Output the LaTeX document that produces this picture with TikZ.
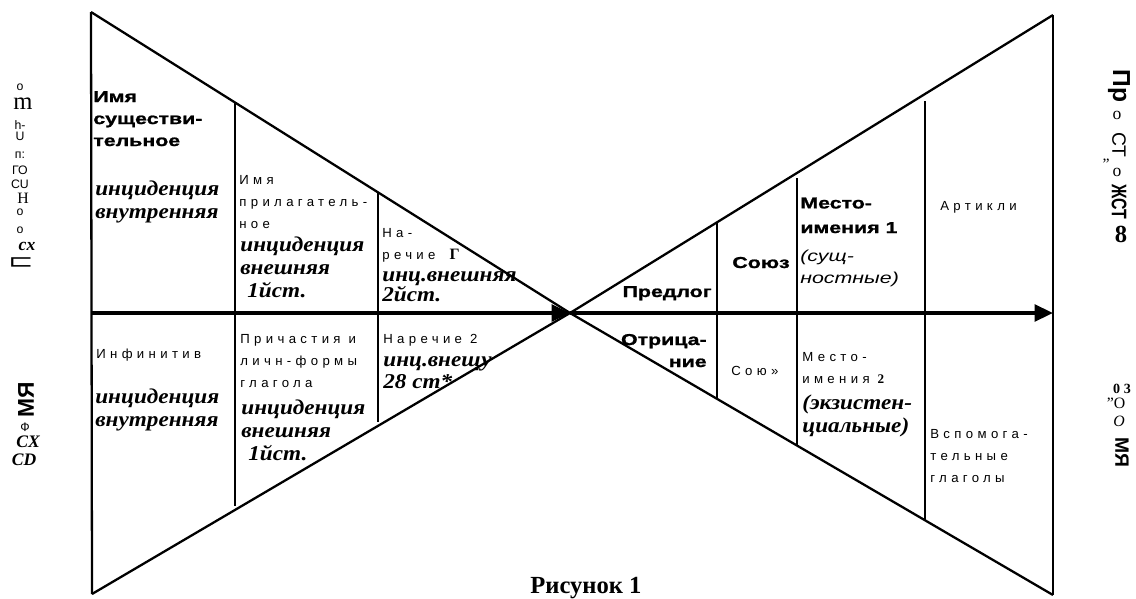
\documentclass[tikz,border=0pt]{standalone}
\usepackage{fontspec}
\usepackage{graphicx}
\setmainfont{Liberation Serif}
\setsansfont{Liberation Sans}
\newfontfamily\widesans[FakeStretch=1.35]{Liberation Sans}
\newfontfamily\blacksans[FakeStretch=1.35,FakeBold=1.2]{Liberation Sans}
\newfontfamily\spacedsans[LetterSpace=33]{Liberation Sans}
\newfontfamily\incserif[FakeStretch=1.1]{Liberation Serif}
\usetikzlibrary{arrows.meta}

\begin{document}
\begin{tikzpicture}[
  x=0.2mm, y=-0.2mm,
  edge/.style={line width=1.3pt},
  divider/.style={line width=1.1pt},
  axis/.style={line width=2pt, -{Triangle[length=10.5pt,width=9.5pt]}},
  txt/.style={inner sep=0pt, anchor=base west, align=left},
  heavy/.style={txt, font=\blacksans\bfseries\fontsize{9}{12.5}\selectfont},
  spaced/.style={txt, font=\spacedsans\fontsize{7.5}{12.5}\selectfont},
  incid/.style={txt, font=\incserif\bfseries\itshape\fontsize{12}{13}\selectfont},
  note/.style={txt, font=\widesans\itshape\fontsize{9}{12}\selectfont},
  side/.style={inner sep=0pt, font=#1},
  side/.default={\sffamily\fontsize{7}{7}\selectfont}
]
\useasboundingbox (0,0) rectangle (1136,598);

% Corners of the hourglass
\coordinate (tl)  at (91,12);
\coordinate (bl)  at (92,594);
\coordinate (tr)  at (1053,15);
\coordinate (br)  at (1053,595);
\coordinate (c)   at (570,313);
\coordinate (axl) at (91,313);
\coordinate (axr) at (1053,313);

% Outline
\draw[edge] (tl) -- (bl);
\draw[edge] (tr) -- (br);
\draw[edge] (tl) -- (c) -- (tr);
\draw[edge] (bl) -- (c) -- (br);

% Axis
\draw[axis] (axl) -- (c);
\draw[axis] (c) -- (axr);

% Column dividers
\foreach \x/\ya/\yb in {235/103/506, 378/193/422, 717/222/399, 797/178/446, 925/101/520}
  \draw[divider] (\x,\ya) -- (\x,\yb);

% Left half, upper row (nodes sit on the baseline of their last line)
\node[heavy] (noun-name) at (93,146) {Имя\\существи-\\тельное};
\node[incid] (noun-inc) at (95,218) {инциденция\\внутренняя};
\node[spaced] (adj-name) at (239,228) {Имя\\прилагатель-\\ное};
\node[incid] (adj-inc) at (240,297) {инциденция\\внешняя\\\hspace{4pt}1йст.};
\node[spaced] (adv1-name) at (382,259) {На-\\речие\hspace{8pt}{\normalfont\bfseries\fontsize{9}{9}\selectfont Г}};
\node[incid] (adv1-inc) at (382,301) {инц.внешняя\\[-2pt]2йст.};

% Left half, lower row
\node[spaced] (inf-name) at (96,358) {Инфинитив};
\node[incid] (inf-inc) at (95,426) {инциденция\\внутренняя};
\node[spaced] (part-name) at (240,387) {Причастия и\\личн-формы\\глагола};
\node[incid] (part-inc) at (241,460) {инциденция\\внешняя\\\hspace{4pt}1йст.};
\node[spaced] (adv2-name) at (383,343) {Наречие 2};
\node[incid] (adv2-inc) at (383,388) {инц.внещу\\[-1pt]28 ст*};

% Right half
\node[heavy, anchor=base east, align=right] (prep) at (712,297) {Предлог};
\node[heavy, anchor=base east, align=right] (neg) at (707,367) {Отрица-\\ние};
\node[heavy] (conj1) at (732,268) {Союз};
\node[spaced] (conj2) at (731,375) {Сою»};
\node[heavy] (pron1) at (800,233) {Место-\\[1.5pt]имения 1};
\node[note] (pron1-note) at (800,283) {(сущ-\\ностные)};
\node[spaced] (pron2) at (802,383) {Место-\\имения {\normalfont\bfseries 2}};
\node[incid] (pron2-note) at (802,432) {(экзистен-\\циальные)};
\node[spaced] (art) at (940,210) {Артикли};
\node[spaced] (aux) at (930,482) {Вспомога-\\тельные\\глаголы};

% Margin, left
\foreach \t/\y [count=\i] in {о/87, h-/125, U/136, п:/155, ГО/170, CU/184, о/212, о/230}
  \node[side] (lt-\i) at (20,\y) {\t};
\node[side=\rmfamily\fontsize{14}{14}\selectfont] (lt-m) at (23,104) {m};
\node[side=\rmfamily\fontsize{9}{9}\selectfont] (lt-h) at (23,198) {H};
\node[side=\rmfamily\bfseries\itshape\fontsize{10}{10}\selectfont] (lt-cx) at (27,246) {cx};
\node[side=\sffamily\fontsize{16}{16}\selectfont, rotate=90] (lt-p) at (21,262) {\scalebox{0.6}[1]{П}};
\node[side=\sffamily\bfseries\fontsize{13}{13}\selectfont, rotate=90] (lb-name) at (26,400) {МЯ};
\node[side] (lb-f) at (25,427) {Ф};
\node[side=\rmfamily\bfseries\itshape\fontsize{10}{10}\selectfont] (lb-cx) at (28,442) {CX};
\node[side=\rmfamily\bfseries\itshape\fontsize{10}{10}\selectfont] (lb-cd) at (24,460) {CD};

% Margin, right
\node[side=\sffamily\bfseries\fontsize{14}{14}\selectfont, rotate=-90] (rt-1) at (1119,86) {Пр};
\node[side=\rmfamily\fontsize{10}{10}\selectfont] (rt-2) at (1117,115) {о};
\node[side=\sffamily\fontsize{11}{11}\selectfont, rotate=-90] (rt-3) at (1119,145) {СТ};
\node[side=\rmfamily\fontsize{9}{9}\selectfont] (rt-4) at (1106,164) {"};
\node[side=\rmfamily\fontsize{10}{10}\selectfont] (rt-5) at (1117,172) {о};
\node[side=\sffamily\bfseries\fontsize{12}{12}\selectfont, rotate=-90] (rt-6) at (1119,202) {\scalebox{0.75}[1]{ЖСТ}};
\node[side=\rmfamily\bfseries\fontsize{14}{14}\selectfont] (rt-7) at (1121,234) {8};
\node[side=\rmfamily\bfseries\fontsize{8}{8}\selectfont] (rb-1) at (1122,389) {0 3};
\node[side=\rmfamily\fontsize{9}{9}\selectfont] (rb-2) at (1116,403) {"O};
\node[side=\rmfamily\itshape\fontsize{9}{9}\selectfont] (rb-3) at (1119,421) {O};
\node[side=\sffamily\bfseries\fontsize{11}{11}\selectfont, rotate=-90] (rb-4) at (1122,452) {МЯ};

% Caption
\node[txt, font=\bfseries\fontsize{14}{14}\selectfont] (caption) at (530,593) {Рисунок 1};

\end{tikzpicture}
\end{document}
